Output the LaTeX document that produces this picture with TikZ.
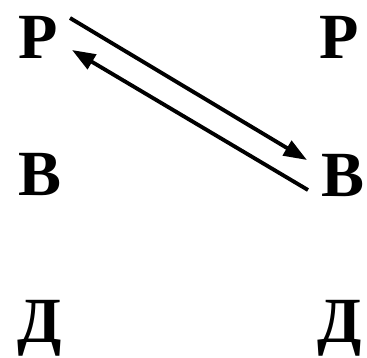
\documentclass[tikz,border=0pt]{standalone}
\usepackage{fontspec}
\setmainfont{Liberation Serif}
\usetikzlibrary{arrows.meta}
\begin{document}
\begin{tikzpicture}[x=0.03cm, y=-0.03cm,
  letter/.style={inner sep=0pt, font=\fontsize{55}{60}\selectfont\bfseries},
  arr/.style={-{Triangle[length=7mm,width=5mm]}, line width=3.3pt},
]
  \useasboundingbox (0,0) rectangle (367,357);
  \node[letter] (pl) at (38,37) {Р};
  \node[letter] (pr) at (339,37) {Р};
  \node[letter] (bl) at (40,174) {В};
  \node[letter] (br) at (343,175) {В};
  \node[letter] (dl) at (40,328) {Д};
  \node[letter] (dr) at (340,328) {Д};

  \draw[arr] ([shift={(32,-19)}]pl.center) -- ([shift={(-36,-15)}]br.center);
  \draw[arr] ([shift={(-35,15)}]br.center) -- ([shift={(34,13)}]pl.center);
\end{tikzpicture}
\end{document}
